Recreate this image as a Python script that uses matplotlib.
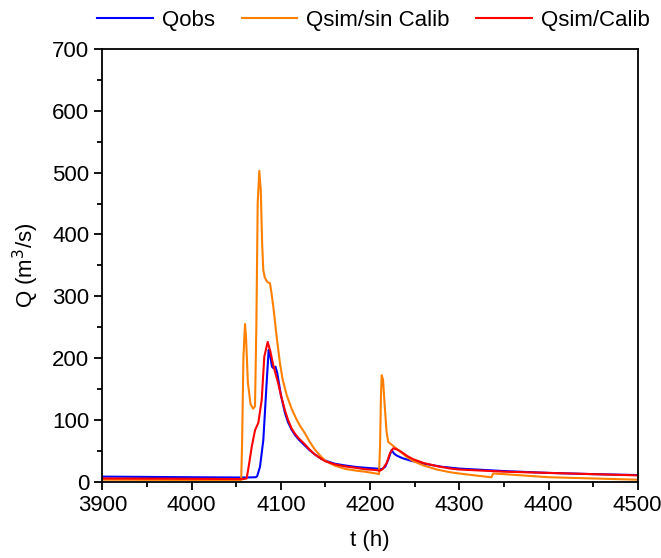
import matplotlib
matplotlib.use("Agg")
import matplotlib.pyplot as plt
from matplotlib.ticker import MultipleLocator

plt.rcParams['font.family'] = ['Liberation Sans', 'DejaVu Sans']

# Qobs (observed)
t_obs = [3900, 4000, 4060, 4072, 4073.5, 4076.6, 4080.3, 4084, 4086.3, 4088, 4090,
         4092, 4094, 4096, 4100, 4104.6, 4108, 4112, 4116, 4120, 4127, 4132, 4138,
         4144, 4149.5, 4160, 4172, 4185, 4194, 4207, 4213, 4217, 4221, 4224, 4227,
         4230, 4236, 4245, 4260, 4280, 4300, 4350, 4400, 4450, 4500]
q_obs = [8, 7, 6.5, 7, 9, 24, 67, 159, 213, 205, 186,
         183, 186, 175, 140, 111, 96, 84, 75, 68, 58, 51, 44,
         38, 34, 29, 26, 23.5, 22.4, 21, 20, 24, 38, 51, 45,
         42, 38, 34, 29, 24, 21, 17, 14, 12, 10.5]

# Qsim without calibration
t_sin = [3900, 4000, 4055.5, 4056.5, 4058, 4059.8, 4061, 4063, 4066, 4069, 4071,
         4072.5, 4074, 4075.8, 4077.5, 4079, 4080.3, 4082, 4084.8, 4087.8, 4089.5,
         4091.5, 4095.3, 4099, 4102, 4106.5, 4112, 4117.7, 4122, 4127, 4132, 4138,
         4144, 4149.5, 4160, 4172, 4185, 4194, 4207, 4210, 4211.2, 4212.2, 4213,
         4214.5, 4216.5, 4218.5, 4220.4, 4227.4, 4235, 4242, 4248.5, 4260, 4274.7,
         4290, 4300, 4320, 4336, 4338, 4350, 4400, 4450, 4500]
q_sin = [3, 2.5, 2.5, 60, 200, 255, 232, 160, 125, 118, 122,
         250, 450, 503, 470, 385, 342, 330, 323, 321, 305,
         283, 234, 191, 165, 140, 118, 100, 89, 78, 65, 52,
         42, 34, 26, 20.5, 17.5, 16, 13, 12, 60, 140, 172,
         165, 120, 80, 64, 56, 47, 39, 33, 26, 19.5,
         15, 13, 9.5, 7, 13, 12, 7, 5, 3]

# Qsim with calibration
t_cal = [3900, 4000, 4058, 4061.6, 4064, 4067.3, 4071, 4074.7, 4078.5, 4081.4,
         4085.2, 4088, 4091.5, 4097, 4100, 4104.6, 4108, 4112, 4116, 4120, 4127,
         4132, 4138, 4144, 4149.5, 4160, 4172, 4185, 4194, 4207, 4211, 4214,
         4218.6, 4222.3, 4226, 4230, 4235, 4242, 4248.5, 4260, 4274.7, 4290,
         4300, 4350, 4400, 4450, 4500]
q_cal = [5, 4.5, 4, 5, 25, 56, 83, 95, 132, 202,
         226, 212, 188, 159, 140, 115, 100, 86, 77, 70, 60,
         52, 44, 38, 33, 28, 24.5, 22, 20, 18.6, 17.5, 20,
         30, 46, 54, 52, 48, 41, 36, 30, 25, 21,
         19.5, 16, 14, 12, 10]

fig = plt.figure(figsize=(6.61, 5.58), dpi=100)
ax = fig.add_axes([0.155, 0.137, 0.8098, 0.775])

ax.plot(t_obs, q_obs, color='#0000FF', lw=1.5, label='Qobs')
ax.plot(t_sin, q_sin, color='#FF8000', lw=1.5, label='Qsim/sin Calib')
ax.plot(t_cal, q_cal, color='#FF0000', lw=1.5, label='Qsim/Calib')

ax.set_xlim(3900, 4500)
ax.set_ylim(0, 700)
ax.xaxis.set_major_locator(MultipleLocator(100))
ax.xaxis.set_minor_locator(MultipleLocator(50))
ax.yaxis.set_major_locator(MultipleLocator(100))
ax.yaxis.set_minor_locator(MultipleLocator(50))
ax.tick_params(which='both', direction='out', top=False, right=False, width=1.3,
               labelsize=16)
ax.tick_params(which='major', length=6)
ax.tick_params(which='minor', length=3.5)
for s in ax.spines.values():
    s.set_linewidth(1.3)

ax.set_xlabel('t (h)', fontsize=16, labelpad=10)
ax.set_ylabel('Q (m$^3$/s)', fontsize=16, labelpad=8)

fig.legend(loc='center', bbox_to_anchor=(0.565, 0.964), ncol=3, frameon=False,
           fontsize=16, handlelength=2.5, handletextpad=0.4, columnspacing=1.2)

fig.savefig('out.png', dpi=100)
